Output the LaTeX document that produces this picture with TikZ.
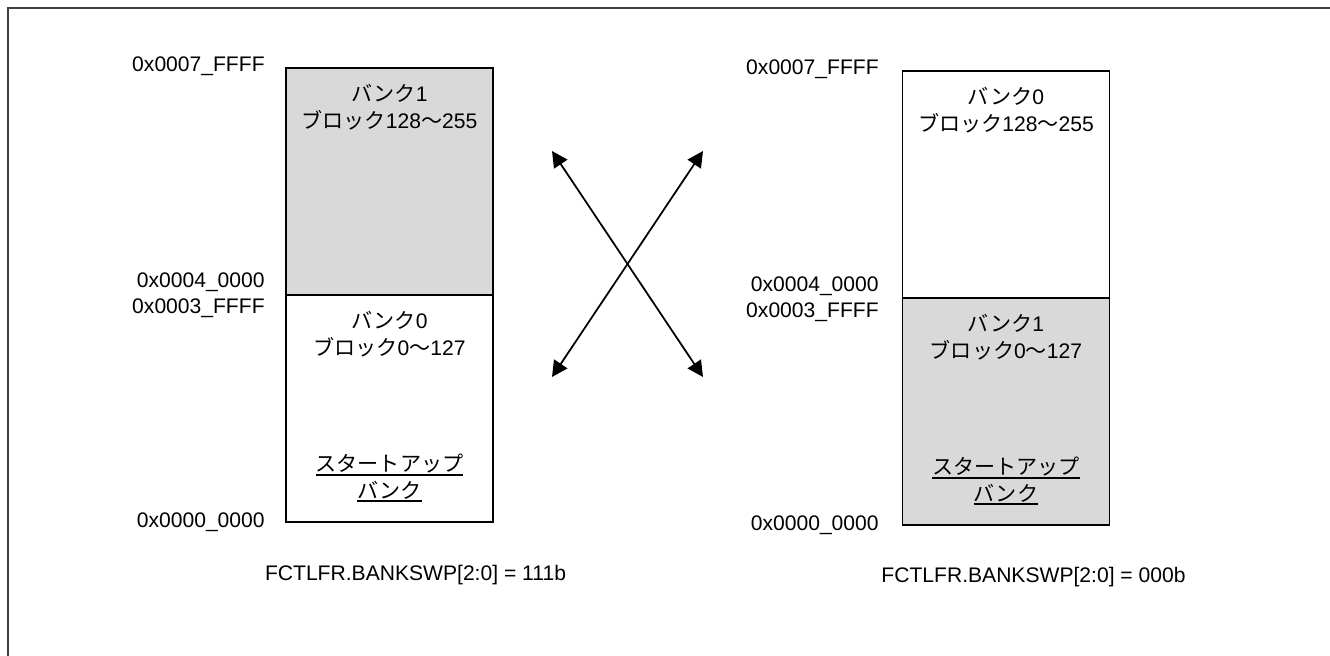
\documentclass[tikz,border=0pt]{standalone}
\usepackage{fontspec}
\setmainfont{Liberation Sans}
\newfontfamily\jpfont{Noto Sans CJK JP}
\usetikzlibrary{arrows.meta,positioning,calc}
\definecolor{bankgray}{HTML}{D9D9D9}
\definecolor{framegray}{HTML}{404040}
\newcommand{\jp}[1]{{\jpfont #1}}
\newcommand{\ulkana}[1]{\vtop{\hbox{\jp{#1}}\kern0.4pt\hrule height 0.9pt}}
\tikzset{
  membox/.style={rectangle, draw=black, line width=1.1pt, fill=#1,
                 minimum width=4.14cm, minimum height=4.54cm, inner sep=0pt},
  addr/.style={anchor=base east, inner sep=0pt, font=\fontsize{12}{15}\selectfont},
  banktxt/.style={align=center, inner sep=0pt, font=\fontsize{12}{15}\selectfont},
  swaparr/.style={{Triangle[length=9pt,width=9pt]}-{Triangle[length=9pt,width=9pt]},
                  line width=1pt, draw=black},
}

\begin{document}
\begin{tikzpicture}[x=0.02cm, y=-0.02cm]
    \useasboundingbox (0,0) rectangle (1330,656);
    % outer frame (open at right and bottom)
    \draw[framegray, line width=0.9pt] (8,656) -- (8,8) -- (1330,8);

    % left map: BANKSWP = 111b
    \node[membox=bankgray] (lhigh) at (389.5,181.5) {};
    \node[membox=white]    (llow)  at (389.5,408.5) {};
    \node[banktxt] (lhightxt) at (389.5,107) {\jp{バンク}1\\\jp{ブロック}128\jp{～}255};
    \node[banktxt] (llowtxt)  at (389.5,334) {\jp{バンク}0\\\jp{ブロック}0\jp{～}127};
    \node[banktxt] (lstart)   at (389.5,478) {\ulkana{スタートアップ}\\\ulkana{バンク}};
    \node[addr] (la7) at (265,71)  {0x0007\_FFFF};
    \node[addr] (la4) at (265,287) {0x0004\_0000};
    \node[addr] (la3) at (265,313) {0x0003\_FFFF};
    \node[addr] (la0) at (265,527) {0x0000\_0000};
    \node[banktxt] (lcap) at (415.5,575) {FCTLFR.BANKSWP[2:0] = 111b};

    % right map: BANKSWP = 000b
    \node[membox=white]    (rhigh) at (1006,184.5) {};
    \node[membox=bankgray] (rlow)  at (1006,411.5) {};
    \node[banktxt] (rhightxt) at (1006,110) {\jp{バンク}0\\\jp{ブロック}128\jp{～}255};
    \node[banktxt] (rlowtxt)  at (1006,337) {\jp{バンク}1\\\jp{ブロック}0\jp{～}127};
    \node[banktxt] (rstart)   at (1006,481) {\ulkana{スタートアップ}\\\ulkana{バンク}};
    \node[addr] (ra7) at (879,74)  {0x0007\_FFFF};
    \node[addr] (ra4) at (879,291) {0x0004\_0000};
    \node[addr] (ra3) at (879,317) {0x0003\_FFFF};
    \node[addr] (ra0) at (879,530) {0x0000\_0000};
    \node[banktxt] (rcap) at (1033.5,577) {FCTLFR.BANKSWP[2:0] = 000b};

    % swap arrows
    \coordinate (swtl) at (552,151);
    \coordinate (swtr) at (703,151);
    \coordinate (swbl) at (552,377);
    \coordinate (swbr) at (703,377);
    \draw[swaparr] (swtl) -- (swbr);
    \draw[swaparr] (swtr) -- (swbl);
\end{tikzpicture}
\end{document}
